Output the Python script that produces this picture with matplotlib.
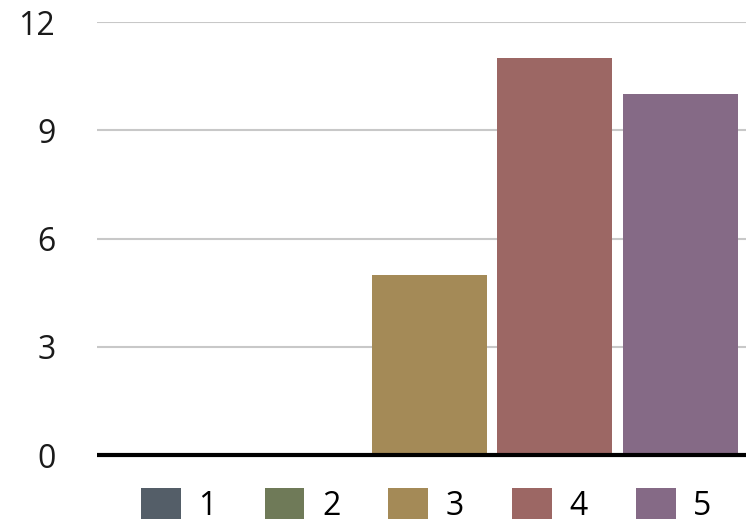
import matplotlib
matplotlib.use("Agg")
import matplotlib.pyplot as plt
from matplotlib.patches import Patch

categories = ["1", "2", "3", "4", "5"]
values = [0, 0, 5, 11, 10]
colors = ["#545e68", "#6f7a58", "#a48a57", "#9c6764", "#856a86"]
yticks = [0, 3, 6, 9, 12]

plt.rcParams['font.family'] = ['Open Sans', 'DejaVu Sans']

W, H = 746, 524
fig = plt.figure(figsize=(W / 100, H / 100), dpi=100)
ax = fig.add_axes([97 / W, (H - 455) / H, (746 - 97) / W, (455 - 22) / H])

x = list(range(len(categories)))
ax.bar(x, values, width=0.916, color=colors, zorder=3)

ax.set_ylim(0, 12)
ax.set_xlim(-0.649, 4.522)
ax.set_yticks(yticks)
ax.set_yticklabels([str(t) for t in yticks], fontsize=23, color="#1a1a1a")
ax.set_xticks([])
ax.tick_params(axis='y', length=0, pad=30)
for t in ax.get_yticklabels():
    t.set_horizontalalignment('right')

ax.grid(axis='y', color="#c8c8c8", linewidth=1.5, zorder=0)
ax.axhline(0, color="black", linewidth=3, zorder=4, clip_on=False, solid_capstyle='butt')
for s in ax.spines.values():
    s.set_visible(False)

handles = [Patch(facecolor=c, edgecolor='none') for c in colors]
leg = ax.legend(handles, categories, loc='upper center', bbox_to_anchor=(0.507, -0.077),
                ncol=5, frameon=False, fontsize=23, handlelength=1.25, handleheight=1.1,
                handletextpad=0.55, columnspacing=1.5, borderpad=0, borderaxespad=0)

fig.savefig("out.png", dpi=100)
